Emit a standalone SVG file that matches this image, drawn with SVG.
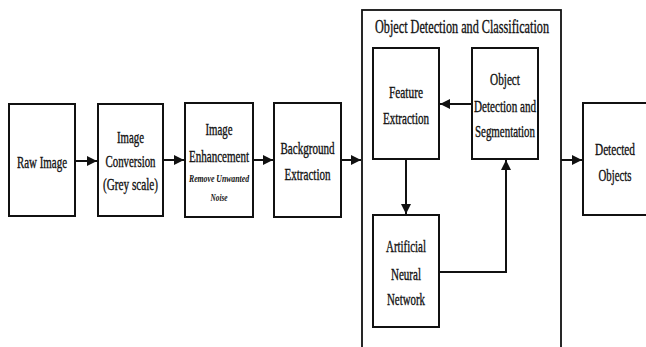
<svg xmlns="http://www.w3.org/2000/svg" width="646" height="347" viewBox="0 0 646 347">
  <style>
    .box { fill: #fff; stroke: #111; stroke-width: 2; }
    .frame { fill: #fff; stroke: #111; stroke-width: 1.8; }
    .lbl { font-family: "Liberation Serif", "Times New Roman", serif; font-size: 16px; fill: #111; stroke: #111; stroke-width: 0.35; text-anchor: middle; }
    .title { font-size: 18.5px; }
    .note { font-family: "Liberation Serif", "Times New Roman", serif; font-size: 11px; font-style: italic; font-weight: bold; fill: #111; text-anchor: middle; }
    .wire { fill: none; stroke: #111; stroke-width: 2; }
  </style>
  <defs>
    <marker id="head" viewBox="0 0 10 10" refX="10" refY="5" markerWidth="5" markerHeight="5" orient="auto" markerUnits="strokeWidth">
      <path d="M0,0 L10,5 L0,10 Z" fill="#111"/>
    </marker>
  </defs>
  <rect width="646" height="347" fill="#fff"/>

  <!-- outer stage container -->
  <g id="stage-object-detection">
    <rect class="frame" x="362" y="10" width="199" height="345"/>
    <text class="lbl title" x="462" y="33" textLength="174" lengthAdjust="spacingAndGlyphs">Object Detection and Classification</text>
  </g>

  <g id="raw-image">
    <rect class="box" x="9" y="104" width="66" height="112"/>
    <text class="lbl" x="42" y="167.5" textLength="50" lengthAdjust="spacingAndGlyphs">Raw Image</text>
  </g>

  <g id="image-conversion">
    <rect class="box" x="98" y="104" width="65" height="112"/>
    <text class="lbl" x="130.5" y="143" textLength="27" lengthAdjust="spacingAndGlyphs">Image</text>
    <text class="lbl" x="130.5" y="167" textLength="50" lengthAdjust="spacingAndGlyphs">Conversion</text>
    <text class="lbl" x="130.5" y="190" textLength="55" lengthAdjust="spacingAndGlyphs">(Grey scale)</text>
  </g>

  <g id="image-enhancement">
    <rect class="box" x="185" y="103" width="68" height="114"/>
    <text class="lbl" x="219" y="135" textLength="27" lengthAdjust="spacingAndGlyphs">Image</text>
    <text class="lbl" x="219" y="162" textLength="60" lengthAdjust="spacingAndGlyphs">Enhancement</text>
    <text class="note" x="219" y="182" textLength="60" lengthAdjust="spacingAndGlyphs">Remove Unwanted</text>
    <text class="note" x="219" y="201" textLength="17" lengthAdjust="spacingAndGlyphs">Noise</text>
  </g>

  <g id="background-extraction">
    <rect class="box" x="274" y="103" width="67" height="114"/>
    <text class="lbl" x="307.5" y="154" textLength="54" lengthAdjust="spacingAndGlyphs">Background</text>
    <text class="lbl" x="307.5" y="180" textLength="46" lengthAdjust="spacingAndGlyphs">Extraction</text>
  </g>

  <g id="feature-extraction">
    <rect class="box" x="373" y="48" width="66" height="111"/>
    <text class="lbl" x="406" y="98" textLength="34" lengthAdjust="spacingAndGlyphs">Feature</text>
    <text class="lbl" x="406" y="124" textLength="46" lengthAdjust="spacingAndGlyphs">Extraction</text>
  </g>

  <g id="object-detection-segmentation">
    <rect class="box" x="472" y="48" width="66" height="111"/>
    <text class="lbl" x="505" y="85" textLength="30" lengthAdjust="spacingAndGlyphs">Object</text>
    <text class="lbl" x="505" y="112" textLength="62" lengthAdjust="spacingAndGlyphs">Detection and</text>
    <text class="lbl" x="505" y="137" textLength="60" lengthAdjust="spacingAndGlyphs">Segmentation</text>
  </g>

  <g id="artificial-neural-network">
    <rect class="box" x="373" y="215" width="66" height="112"/>
    <text class="lbl" x="406" y="252" textLength="40" lengthAdjust="spacingAndGlyphs">Artificial</text>
    <text class="lbl" x="406" y="280" textLength="30" lengthAdjust="spacingAndGlyphs">Neural</text>
    <text class="lbl" x="406" y="305" textLength="38" lengthAdjust="spacingAndGlyphs">Network</text>
  </g>

  <g id="detected-objects">
    <rect class="box" x="583" y="103" width="72" height="112"/>
    <text class="lbl" x="615" y="155" textLength="40" lengthAdjust="spacingAndGlyphs">Detected</text>
    <text class="lbl" x="615" y="181" textLength="33" lengthAdjust="spacingAndGlyphs">Objects</text>
  </g>

  <g id="connectors">
    <line class="wire" x1="75" y1="161" x2="97" y2="161" marker-end="url(#head)"/>
    <line class="wire" x1="163" y1="160" x2="184" y2="160" marker-end="url(#head)"/>
    <line class="wire" x1="253" y1="160" x2="273" y2="160" marker-end="url(#head)"/>
    <line class="wire" x1="341" y1="160" x2="361" y2="160" marker-end="url(#head)"/>
    <line class="wire" x1="561" y1="160" x2="582" y2="160" marker-end="url(#head)"/>
    <line class="wire" x1="472" y1="104" x2="440" y2="104" marker-end="url(#head)"/>
    <line class="wire" x1="406" y1="159" x2="406" y2="214" marker-end="url(#head)"/>
    <polyline class="wire" points="439,272 506,272 506,160" marker-end="url(#head)"/>
  </g>
</svg>
